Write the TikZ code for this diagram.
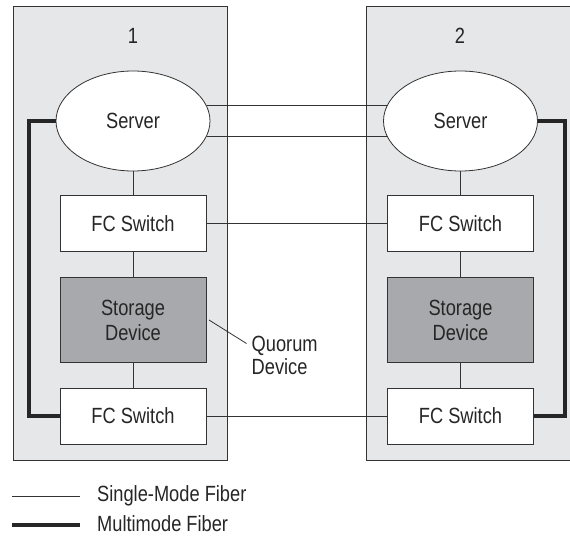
\documentclass[tikz,border=0pt]{standalone}
\usepackage{fontspec}
\setmainfont{Liberation Sans}[FakeStretch=0.83]
\usetikzlibrary{shapes.geometric}
\definecolor{boxgray}{HTML}{E6E7E8}
\definecolor{storgray}{HTML}{A7A9AC}
\definecolor{linegray}{HTML}{333333}
\tikzset{
  every node/.style={font=\fontsize{22}{24}\selectfont, text=black!85},
  site/.style={draw=linegray, fill=boxgray, line width=1pt},
  server/.style={ellipse, draw=linegray, fill=white, line width=0.8pt, minimum width=154pt, minimum height=100pt, inner sep=0pt},
  switchbox/.style={rectangle, draw=linegray, fill=white, line width=1pt, minimum width=146pt, minimum height=56pt, inner sep=0pt},
  storbox/.style={rectangle, draw=linegray, fill=storgray, line width=1pt, minimum width=146pt, minimum height=84pt, inner sep=0pt, align=center},
  single/.style={draw=linegray, line width=1pt},
  multi/.style={draw=black!85, line width=3.6pt},
}
\begin{document}
\begin{tikzpicture}[x=1pt, y=-1pt]
\fill[white] (0,0) rectangle (570,537);
\useasboundingbox (0,0) rectangle (570,537);
% sites
\path[site] (13,7) rectangle (227,460);
\fill[boxgray] (366,7) rectangle (570,460);
\draw[linegray, line width=1pt] (570,7) -- (366,7) -- (366,460) -- (570,460);
\node (n1) at (133,36) {1};
\node (n2) at (460,36) {2};
% nodes
\node[server] (s1) at (133,121) {Server};
\node[server] (s2) at (460.5,121) {Server};
\node[switchbox] (f1) at (133,224) {FC Switch};
\node[switchbox] (f2) at (460.5,224) {FC Switch};
\node[storbox] (d1) at (133,320) {Storage\\[1pt]Device};
\node[storbox] (d2) at (460.5,320) {Storage\\[1pt]Device};
\node[switchbox] (b1) at (133,416) {FC Switch};
\node[switchbox] (b2) at (460.5,416) {FC Switch};
% vertical single links
\draw[single] (s1) -- (f1);
\draw[single] (f1) -- (d1);
\draw[single] (d1) -- (b1);
\draw[single] (s2) -- (f2);
\draw[single] (f2) -- (d2);
\draw[single] (d2) -- (b2);
% horizontal links
\draw[single] (s1.12.4) -- (s2.167.6 |- s1.12.4);
\draw[single] (s1.-12.4) -- (s2.-167.6 |- s1.-12.4);
\draw[single] (f1) -- (f2);
\draw[single] (b1) -- (b2);
% multimode
\coordinate (ml1) at (29,121);
\coordinate (ml2) at (29,416);
\draw[multi] (s1.west) -- (ml1) -- (ml2) -- (b1.west);
\coordinate (mr1) at (565,121);
\coordinate (mr2) at (565,416);
\draw[multi] (s2.east) -- (mr1) -- (mr2) -- (b2.east);
% quorum
\node[anchor=north west, align=left, inner sep=0pt] (q) at (251.5,336) {Quorum\\[-1pt]Device};
\coordinate (qa) at (246.5,343.5);
\coordinate (qb) at (209,320);
\draw[single, line width=0.8pt] (qb) -- (qa);
% legend
\coordinate (l1a) at (12,496);
\coordinate (l1b) at (80,496);
\draw[single, line width=0.8pt] (l1a) -- (l1b);
\node[anchor=west, inner sep=0pt] (t1) at (97,496) {Single-Mode Fiber};
\coordinate (l2a) at (12,525);
\coordinate (l2b) at (80,525);
\draw[multi] (l2a) -- (l2b);
\node[anchor=west, inner sep=0pt] (t2) at (97,524) {Multimode Fiber};
\end{tikzpicture}
\end{document}
